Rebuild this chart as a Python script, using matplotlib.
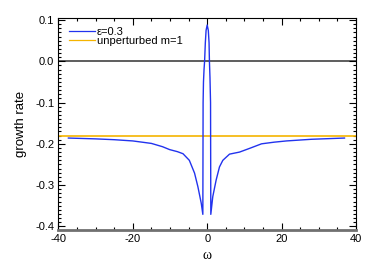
import numpy as np
import matplotlib.pyplot as plt
from matplotlib.ticker import MultipleLocator

plt.rcParams['font.family'] = ['Liberation Sans', 'DejaVu Sans']
plt.rcParams['axes.unicode_minus'] = False

# epsilon = 0.3 growth rate vs omega
omega = [-37.3, -30, -25, -20, -15, -12, -10.1, -8, -6.5, -4.8, -3.4, -2.5, -1.6,
         -1.17, -1.1, -1.0, -0.85, -0.7, -0.5, -0.3, 0.0, 0.3, 0.5, 0.6, 0.75,
         0.9, 0.97, 1.5, 2.4, 3.3, 4.2, 6.0, 8.7, 11.4, 14.6, 18, 21.3, 28, 36.9]
growth = [-0.186, -0.188, -0.190, -0.193, -0.199, -0.207, -0.214, -0.219, -0.224,
          -0.240, -0.271, -0.304, -0.344,
          -0.371, -0.10, -0.05, -0.02, 0.0, 0.045, 0.075, 0.088, 0.075, 0.045, 0.0,
          -0.04, -0.10, -0.371, -0.328, -0.288, -0.256, -0.240, -0.225, -0.220,
          -0.211, -0.200, -0.196, -0.193, -0.189, -0.186]
unperturbed = -0.181

fig = plt.figure(figsize=(3.74, 2.67), dpi=100)
ax = fig.add_axes([0.156, 0.140, 0.796, 0.791])

ax.axhline(0.0, color='#505050', lw=1.3, zorder=1)
ax.plot(omega, growth, color='#2233ee', lw=1.0, label='ε=0.3', zorder=3)
ax.axhline(unperturbed, color='#f5b400', lw=1.2, label='unperturbed m=1', zorder=2)

ax.set_xlim(-40, 40)
ax.set_ylim(-0.408, 0.104)
ax.xaxis.set_major_locator(MultipleLocator(20))
ax.xaxis.set_minor_locator(MultipleLocator(5))
ax.yaxis.set_major_locator(MultipleLocator(0.1))
ax.yaxis.set_minor_locator(MultipleLocator(0.01))
ax.set_yticks(np.arange(-0.4, 0.11, 0.1))
ax.set_yticklabels(['-0.4', '-0.3', '-0.2', '-0.1', '0.0', '0.1'])

ax.tick_params(which='both', direction='in', top=True, right=True,
               labelsize=8, pad=3, width=0.8)
ax.tick_params(which='major', length=5)
ax.tick_params(which='minor', length=2.5)
for s in ['left', 'right', 'top']:
    ax.spines[s].set_linewidth(0.8)
ax.spines['bottom'].set_linewidth(2.0)
ax.spines['bottom'].set_color('#707070')

ax.set_xlabel('ω', family=['Liberation Serif', 'DejaVu Serif'], fontsize=10, labelpad=4)
ax.set_ylabel('growth rate', fontsize=9.5, labelpad=6)

leg = ax.legend(loc='upper left', bbox_to_anchor=(0.037, 0.958), frameon=False,
                fontsize=8, handlelength=2.3, handletextpad=0.15,
                borderaxespad=0, labelspacing=-0.12, borderpad=0)
for h in leg.get_lines():
    h.set_linewidth(0.9)

fig.savefig('out.png', dpi=100)
